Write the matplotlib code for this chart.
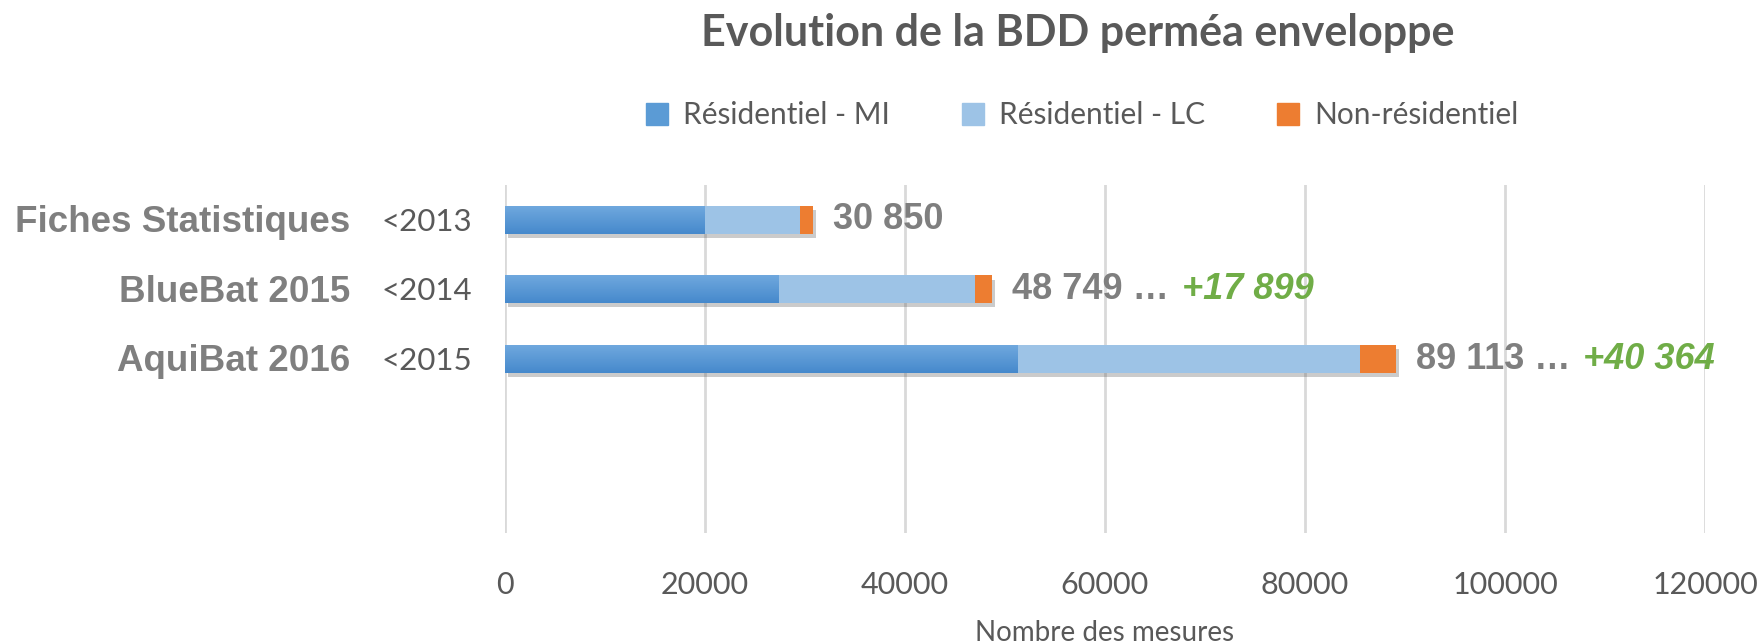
import numpy as np
import matplotlib.pyplot as plt
from matplotlib.patches import Patch
from matplotlib.colors import LinearSegmentedColormap
import matplotlib.patheffects as pe

# data
sources = ["Fiches Statistiques", "BlueBat 2015", "AquiBat 2016"]
periods = ["<2013", "<2014", "<2015"]
res_mi = [19900, 27300, 51200]
res_lc = [9600, 19700, 34300]
non_res = [1350, 1749, 3613]
totals = [30850, 48749, 89113]
increase = [None, 17899, 40364]
series_names = ["Résidentiel - MI", "Résidentiel - LC", "Non-résidentiel"]
n_slots = 5  # two empty category slots below the bars

col_mi = "#5B9BD5"
col_lc = "#9DC3E6"
col_nr = "#ED7D31"
grey = "#7F7F7F"
dark = "#595959"
green = "#70AD47"

fig = plt.figure(figsize=(17.65, 6.43), dpi=100)
ax = fig.add_axes([0.2861, 0.171, 0.966 - 0.2861, 0.7123 - 0.171])

y = np.arange(len(sources))
shadow = [pe.SimplePatchShadow(offset=(2, -3), alpha=0.3, shadow_rgbFace="#555555"), pe.Normal()]

b1 = ax.barh(y, res_mi, height=0.4, color=col_mi, zorder=3)
b2 = ax.barh(y, res_lc, left=res_mi, height=0.4, color=col_lc, zorder=3)
left3 = np.array(res_mi) + np.array(res_lc)
b3 = ax.barh(y, non_res, left=left3, height=0.4, color=col_nr, zorder=3)
for bars in (b1, b2, b3):
    for p in bars:
        p.set_path_effects(shadow)

# vertical gradient on the MI segments
grad = np.linspace(0, 1, 64).reshape(-1, 1)
cmap = LinearSegmentedColormap.from_list("mi", ["#6FA8DE", "#4689CC"])
for p in b1:
    x0, y0 = p.get_x(), p.get_y()
    w, h = p.get_width(), p.get_height()
    im = ax.imshow(grad, cmap=cmap, aspect="auto", extent=(x0, x0 + w, y0 + h, y0),
                   zorder=3.5, interpolation="bilinear")
    im.set_clip_path(p)

ax.set_xlim(0, 120000)
ax.set_ylim(n_slots - 0.5, -0.5)
ax.set_xticks(np.arange(0, 120001, 20000))
ax.grid(axis="x", color="#D9D9D9", linewidth=2, zorder=0)
ax.set_axisbelow(True)
for s in ax.spines.values():
    s.set_visible(False)
ax.tick_params(axis="x", length=0, pad=27, labelsize=22, labelcolor=dark)
for t in ax.get_xticklabels():
    t.set_fontfamily("Lato")
ax.set_yticks([])

# category labels (two levels)
for i in range(len(sources)):
    ax.text(-15500, i + 0.04, sources[i], ha="right", va="center", fontsize=26.5,
            fontweight="bold", color=grey, family="Liberation Sans")
    ax.text(-3300, i + 0.03, periods[i], ha="right", va="center", fontsize=22.5,
            color=dark, family="Lato")

# total labels
fig.canvas.draw()
renderer = fig.canvas.get_renderer()
for i in range(len(sources)):
    label = f"{totals[i]:,}".replace(",", " ")
    if increase[i] is not None:
        label += " … "
    t = ax.annotate(label, (totals[i], i), xytext=(14, 0), textcoords="offset points",
                    ha="left", va="center", fontsize=26, fontweight="bold",
                    color=grey, family="Liberation Sans")
    if increase[i] is not None:
        bb = t.get_window_extent(renderer)
        xd, _ = ax.transData.inverted().transform((bb.x1, bb.y0))
        ax.annotate("+" + f"{increase[i]:,}".replace(",", " "), (xd, i), xytext=(2, 0),
                    textcoords="offset points", ha="left", va="center", fontsize=26,
                    fontweight="bold", style="italic", color=green,
                    family="Liberation Sans")

fig.text(1078 / 1765, 1 - 33 / 643, "Evolution de la BDD perméa enveloppe",
         ha="center", va="center", fontsize=31, fontweight="bold", color=dark, family="Lato")
fig.text(1105 / 1765, 1 - 633 / 643, "Nombre des mesures", ha="center", va="center",
         fontsize=20, color=dark, family="Lato")

handles = [Patch(color=c) for c in (col_mi, col_lc, col_nr)]
fig.legend(handles, series_names, loc="center", bbox_to_anchor=(1082 / 1765, 1 - 115 / 643),
           ncol=3, frameon=False, handlelength=0.75, handleheight=0.75, handletextpad=0.5,
           columnspacing=2.4, prop={"family": "Lato", "size": 21.5}, labelcolor=dark)

fig.savefig("out.png", dpi=100)
